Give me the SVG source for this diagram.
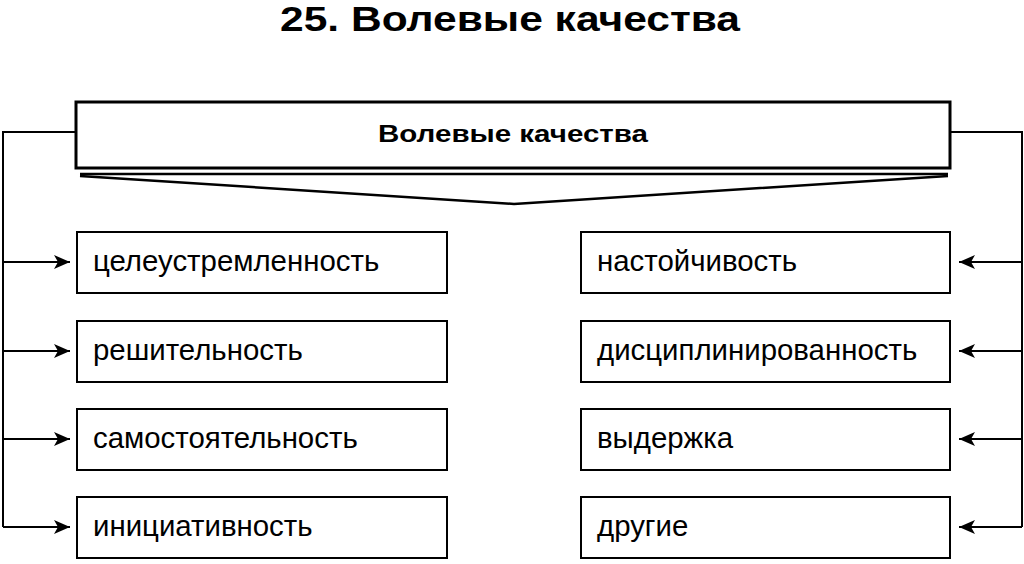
<svg xmlns="http://www.w3.org/2000/svg" width="1024" height="564" viewBox="0 0 1024 564">
<defs>
<style>
.box{fill:#fff;stroke:#000;stroke-width:2}
.lbl{font-family:"Liberation Sans",Arial,sans-serif;font-size:29.4px;fill:#000}
.conn{fill:none;stroke:#000;stroke-width:2}
</style>
<marker id="ah" viewBox="0 0 16 14" refX="16" refY="7" markerWidth="16" markerHeight="14" markerUnits="userSpaceOnUse" orient="auto">
<path d="M0,0 L16,7 L0,14 L4,7 Z" fill="#000"/>
</marker>
</defs>
<rect width="1024" height="564" fill="#fff"/>
<text x="280" y="31" textLength="460" lengthAdjust="spacingAndGlyphs" font-family="Liberation Sans,Arial,sans-serif" font-weight="bold" font-size="35" fill="#000">25. Волевые качества</text>
<g id="root">
<rect x="76" y="102" width="874" height="66" fill="#fff" stroke="#000" stroke-width="3"/>
<line x1="80" y1="174" x2="948" y2="174" stroke="#000" stroke-width="2.5"/>
<polyline points="80,176 514,204 948,176" fill="none" stroke="#000" stroke-width="2.5"/>
<text x="378" y="142" textLength="270" lengthAdjust="spacingAndGlyphs" font-family="Liberation Sans,Arial,sans-serif" font-weight="bold" font-size="24" fill="#000">Волевые качества</text>
</g>
<g id="connectors">
<polyline class="conn" points="76,132 3,132 3,527"/>
<line class="conn" x1="3" y1="262" x2="70" y2="262" marker-end="url(#ah)"/>
<line class="conn" x1="3" y1="351" x2="70" y2="351" marker-end="url(#ah)"/>
<line class="conn" x1="3" y1="439" x2="70" y2="439" marker-end="url(#ah)"/>
<line class="conn" x1="3" y1="527" x2="70" y2="527" marker-end="url(#ah)"/>
<polyline class="conn" points="950,132 1022,132 1022,527"/>
<line class="conn" x1="1022" y1="262" x2="959" y2="262" marker-end="url(#ah)"/>
<line class="conn" x1="1022" y1="351" x2="959" y2="351" marker-end="url(#ah)"/>
<line class="conn" x1="1022" y1="439" x2="959" y2="439" marker-end="url(#ah)"/>
<line class="conn" x1="1022" y1="527" x2="959" y2="527" marker-end="url(#ah)"/>
</g>
<g id="n1"><rect class="box" x="77" y="232" width="370" height="61"/><text class="lbl" x="93" y="271">целеустремленность</text></g>
<g id="n2"><rect class="box" x="77" y="321" width="370" height="61"/><text class="lbl" x="93" y="360">решительность</text></g>
<g id="n3"><rect class="box" x="77" y="409" width="370" height="61"/><text class="lbl" x="93" y="448">самостоятельность</text></g>
<g id="n4"><rect class="box" x="77" y="497" width="370" height="61"/><text class="lbl" x="93" y="536">инициативность</text></g>
<g id="n5"><rect class="box" x="581" y="232" width="369" height="61"/><text class="lbl" x="597" y="271">настойчивость</text></g>
<g id="n6"><rect class="box" x="581" y="321" width="369" height="61"/><text class="lbl" x="597" y="360">дисциплинированность</text></g>
<g id="n7"><rect class="box" x="581" y="409" width="369" height="61"/><text class="lbl" x="597" y="448">выдержка</text></g>
<g id="n8"><rect class="box" x="581" y="497" width="369" height="61"/><text class="lbl" x="597" y="536">другие</text></g>
</svg>
